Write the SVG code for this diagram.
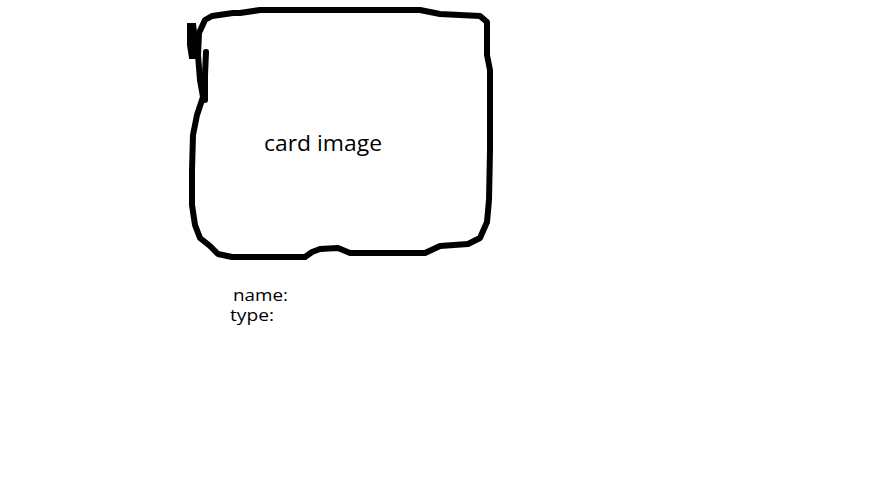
<svg xmlns="http://www.w3.org/2000/svg" width="883" height="478" viewBox="0 0 883 478">
<style>
.s{fill:none;stroke:#000;stroke-width:6;stroke-linecap:round;stroke-linejoin:round}
.t{font-family:"Open Sans","Noto Sans",sans-serif;fill:#000}
</style>
<rect width="883" height="478" fill="#fff"/>
<g id="card">
<path class="s" d="M233,13 L212,16 L205,20 L199,33 L198,55 L200,80 L203,97 L197,115 L193,135 L192,170 L192,205 L195,225 L200,238 L210,246 L218,254 L232,257 L305,257 L312,252 L320,249 L338,248 L350,253 L380,253 L425,253 L440,246 L468,244 L480,238 L487,222 L489,200 L490,150 L490,70 L487,55 L487,22 L480,16 L460,15 L440,14 L420,10 L340,10 L260,10 L240,13 Z"/>
<path d="M188,24 L195,24 L197,40 L197,58 L190,58 L188,45 Z" fill="#000" stroke="#000" stroke-width="2"/>
<path class="s" d="M206,52 L205,75 L205,100"/>
<text class="t" x="264" y="151" font-size="21" textLength="118" lengthAdjust="spacingAndGlyphs">card image</text>
</g>
<g id="labels">
<text class="t" x="233" y="301" font-size="16" textLength="55" lengthAdjust="spacingAndGlyphs">name:</text>
<text class="t" x="230" y="321" font-size="16" textLength="44" lengthAdjust="spacingAndGlyphs">type:</text>
</g>
<g id="connectors"/>
</svg>
